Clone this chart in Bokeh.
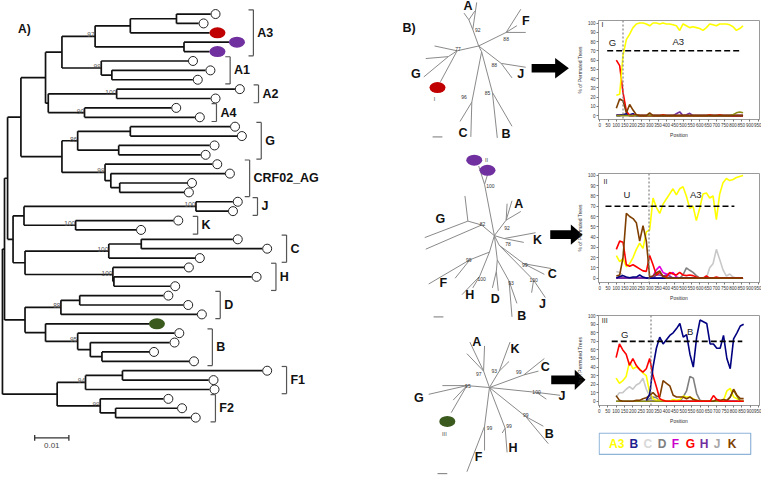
from bokeh.plotting import figure
from bokeh.layouts import row, column
from bokeh.models import Range1d, FixedTicker, Span
from bokeh.embed import file_html
from bokeh.resources import INLINE
from bokeh.core.properties import value

FONT = "Liberation Sans"
NA = float("nan")

# ===================== Panel A : rooted tree =====================
tip_depth = [0.0609, 0.0574, 0.0606, 0.0663, 0.0606, 0.0543, 0.0594, 0.0557, 0.0680, 0.0609,
             0.0494, 0.0563, 0.0666, 0.0686, 0.0606, 0.0580, 0.0614, 0.0651, 0.0540, 0.0531,
             0.0674, 0.0660, 0.0500, 0.0391, 0.0674, 0.0760, 0.0563, 0.0531, 0.0729, 0.0491,
             0.0471, 0.0529, 0.0569, 0.0429, 0.0503, 0.0489, 0.0429, 0.0546, 0.0760, 0.0603,
             0.0606, 0.0471, 0.0511, 0.0551]
colored_tip_index = [2, 3, 4, 33]
colored_tip_color = ["#c00000", "#7030a0", "#7030a0", "#3a5a1e"]

node_name = ["A3a1", "A3a", "A3b", "A3", "A1b", "A1", "A3A1", "A2", "A4", "A2A4",
             "Aall", "Ga", "Gb", "G", "CRFc", "CRFb", "CRF", "GCRF", "AG", "J",
             "K", "JK", "Ca", "C", "Hb", "H", "CH", "JKCH", "AGJKCH", "Da",
             "D", "Bc", "Bb", "B", "BB", "DB", "left", "F1a", "F1", "F2b",
             "F2", "F", "root"]
node_depth = [0.0509, 0.0374, 0.0531, 0.0271, 0.0320, 0.0289, 0.0174, 0.0334, 0.0240, 0.0134,
              0.0126, 0.0374, 0.0340, 0.0220, 0.0343, 0.0317, 0.0300, 0.0174, 0.0054, 0.0566,
              0.0214, 0.0063, 0.0406, 0.0311, 0.0326, 0.0323, 0.0066, 0.0031, 0.0015, 0.0226,
              0.0171, 0.0291, 0.0257, 0.0220, 0.0126, 0.0066, 0.0006, 0.0351, 0.0243, 0.0331,
              0.0286, 0.0160, 0.0]
node_children = [[0, 1], ["A3a1", 2], [3, 4], ["A3a", "A3b"], [6, 7], [5, "A1b"], ["A3", "A1"], [8, 9], [10, 11], ["A2", "A4"],
                 ["A3A1", "A2A4"], [12, 13], [14, 15], ["Ga", "Gb"], [18, 19], [17, "CRFc"], [16, "CRFb"], ["G", "CRF"], ["Aall", "GCRF"], [20, 21],
                 [22, 23], ["J", "K"], [24, 25], ["Ca", 26], [28, 29], [27, "Hb"], ["C", "H"], ["JK", "CH"], ["AG", "JKCH"], [30, 31],
                 ["Da", 32], [36, 37], [35, "Bc"], [34, "Bb"], [33, "B"], ["D", "BB"], ["AGJKCH", "DB"], [38, 39], ["F1a", 40], [42, 43],
                 [41, "F2b"], ["F1", "F2"], ["left", "F"]]
support_node = ["A3", "A1", "A2", "A4", "G", "CRF", "J", "K", "C", "H", "D", "B", "F1", "F2"]
support_value = [97, 99, 100, 90, 86, 99, 100, 100, 100, 100, 88, 95, 94, 99]

clade_name = ["A3", "A1", "A2", "A4", "G", "CRF02_AG", "J", "K", "C", "H", "D", "B", "F1", "F2"]
clade_first = [0, 5, 8, 10, 12, 16, 20, 22, 24, 27, 30, 34, 38, 41]
clade_last = [4, 7, 9, 11, 15, 19, 21, 23, 26, 29, 32, 37, 40, 43]
clade_bracket = [0.0734, 0.0666, 0.0749, 0.0626, 0.0757, 0.0723, 0.0746, 0.0571, 0.0831, 0.0800,
                 0.0637, 0.0614, 0.0831, 0.0623]
scale_length = 0.01
scale_label = "0.01"

PX = scale_length / 35.0      # substitutions per reference pixel
TIP0, TIPSTEP = 14.0, 9.7
A_RIGHT = 345                 # reference px where panel A ends

pA = figure(width=337, height=478, x_range=Range1d(-2 * PX, (A_RIGHT - 2) * PX),
            y_range=Range1d((494 - TIP0) / TIPSTEP, -TIP0 / TIPSTEP),
            output_backend="svg", toolbar_location=None, x_axis_type=None, y_axis_type=None,
            min_border=0, outline_line_color=None, background_fill_color="white")

xpos = {i: d for i, d in enumerate(tip_depth)}
ypos = {i: float(i) for i in range(len(tip_depth))}
sx0, sy0, sx1, sy1 = [], [], [], []
for nm, d, ch in zip(node_name, node_depth, node_children):
    cy = [ypos[c] for c in ch]
    ypos[nm] = (cy[0] + cy[-1]) / 2.0
    xpos[nm] = d
    sx0.append(d); sy0.append(cy[0]); sx1.append(d); sy1.append(cy[-1])
    for c in ch:
        sx0.append(d); sy0.append(ypos[c]); sx1.append(xpos[c]); sy1.append(ypos[c])
pA.segment(sx0, sy0, sx1, sy1, line_color="#111111", line_width=1.7)

open_idx = [i for i in range(len(tip_depth)) if i not in colored_tip_index]
pA.scatter([tip_depth[i] + 5 * PX for i in open_idx], open_idx, size=9, marker="circle",
           fill_color="white", line_color="#222222", line_width=1)
pA.ellipse([tip_depth[i] + 8 * PX for i in colored_tip_index], colored_tip_index,
           width=16, height=11, width_units="screen", height_units="screen",
           fill_color=colored_tip_color, line_color=None)

pA.text([xpos[n] for n in support_node], [ypos[n] for n in support_node],
        text=[str(v) for v in support_value], text_align="right", text_baseline="bottom",
        text_font_size="6.5px", text_color="#555555", text_font=value(FONT), x_offset=-0.5, y_offset=1)

bx0, by0, bx1, by1, lx, ly = [], [], [], [], [], []
for f, l, bx in zip(clade_first, clade_last, clade_bracket):
    y0, y1 = f - 0.45, l + 0.45
    bx0 += [bx, bx - 5 * PX, bx - 5 * PX]
    by0 += [y0, y0, y1]
    bx1 += [bx, bx, bx]
    by1 += [y1, y0, y1]
    lx.append(bx + 4 * PX); ly.append((y0 + y1) / 2.0)
pA.segment(bx0, by0, bx1, by1, line_color="#555555", line_width=1.2)
pA.text(lx, ly, text=clade_name, text_align="left", text_baseline="middle",
        text_font_size="12.5px", text_font_style="bold", text_color="#111111", text_font=value(FONT))

pA.text([16 * PX], [(29 - TIP0) / TIPSTEP], text=["A)"], text_align="left", text_baseline="middle",
        text_font_size="12px", text_font_style="bold", text_color="#111111", text_font=value(FONT))

sb_x0 = 33 * PX
sb_y = (452 - TIP0) / TIPSTEP
pA.segment([sb_x0, sb_x0, sb_x0 + scale_length], [sb_y, sb_y - 0.3, sb_y - 0.3],
           [sb_x0 + scale_length, sb_x0, sb_x0 + scale_length], [sb_y, sb_y + 0.3, sb_y + 0.3],
           line_color="#333333", line_width=1.3)
pA.text([sb_x0 + scale_length / 2], [sb_y + 0.6], text=[scale_label], text_align="center",
        text_baseline="top", text_font_size="8px", text_color="#444444", text_font=value(FONT))

# ===================== Panel B : unrooted trees =====================
ut1_x = [489, 483, 487, 479, 474, 485, 517, 532, 537, 528, 467, 444, 458, 435, 433, 450, 512, 537, 523, 492, 482, 470, 481, 503, 523, 508]
ut1_y = [47, 30, 2, 20, 13, 11, 33, 9, 33, 26, 52, 47, 58, 60, 79, 84, 65, 69, 80, 53, 105, 125, 141, 95, 130, 142]
ut1_parent = [-1, 0, 1, 1, 3, 3, 0, 6, 6, 6, 0, 10, 10, 12, 12, 10, 0, 16, 16, 0, 19, 20, 20, 19, 23, 23]
ut1_lab = ["A", "F", "G", "J", "C", "B"]
ut1_lab_x = [478, 537, 425, 532, 473, 517]
ut1_lab_y = [6, 21, 76, 76, 137, 138]
ut1_bs = ["92", "88", "77", "88", "96", "85"]
ut1_bs_x = [488, 517, 468, 505, 474, 498]
ut1_bs_y = [31, 40, 50, 67, 100, 96]

ut2_x = [505, 495, 489, 498, 492, 478, 475, 434, 435, 517, 523, 532, 518, 515, 547, 535, 510, 535, 563, 556, 545, 557, 543, 500, 480, 438, 465, 490, 472, 483, 508, 507, 503, 509, 520, 528, 523]
ut2_y = [243, 190, 171, 180, 232, 228, 202, 245, 257, 227, 207, 218, 210, 246, 240, 250, 253, 272, 277, 283, 289, 307, 302, 260, 268, 293, 287, 285, 304, 297, 268, 280, 297, 300, 290, 313, 327]
ut2_parent = [-1, 0, 1, 1, 0, 4, 5, 5, 4, 0, 9, 9, 9, 0, 13, 13, 0, 16, 17, 17, 16, 20, 20, 0, 23, 24, 24, 23, 27, 27, 0, 30, 31, 31, 30, 34, 34]
ut2_lab = ["A", "G", "K", "C", "F", "H", "D", "J", "B"]
ut2_lab_x = [530, 450, 549, 564, 453, 480, 506, 554, 533]
ut2_lab_y = [210, 226, 248, 283, 292, 304, 308, 314, 326]
ut2_bs = ["100", "82", "92", "78", "99", "99", "100", "93", "100"]
ut2_bs_x = [501, 493, 518, 519, 479, 536, 492, 522, 545]
ut2_bs_y = [192, 231, 235, 252, 268, 273, 288, 292, 289]

ut3_x = [500, 494, 480, 495, 477, 510, 521, 520, 535, 556, 550, 548, 572, 558, 537, 555, 560, 516, 518, 513, 495, 495, 477, 477, 452, 438, 463, 461]
ut3_y = [400, 383, 353, 357, 365, 383, 353, 373, 387, 370, 383, 405, 408, 412, 430, 440, 458, 442, 467, 447, 440, 465, 487, 398, 398, 407, 413, 426]
ut3_parent = [-1, 0, 1, 1, 1, 0, 5, 5, 0, 8, 8, 0, 11, 11, 0, 14, 14, 0, 17, 17, 0, 20, 20, 0, 23, 23, 23, 23]
ut3_lab = ["A", "K", "C", "J", "B", "H", "F", "G"]
ut3_lab_x = [487, 526, 557, 574, 561, 524, 489, 428]
ut3_lab_y = [353, 360, 379, 409, 448, 462, 472, 411]
ut3_bs = ["97", "93", "99", "100", "95", "99", "99", "99"]
ut3_bs_x = [489, 505, 530, 548, 478, 537, 500, 520]
ut3_bs_y = [386, 383, 384, 405, 398, 428, 442, 440]

sample_x = [447, 484.5, 498, 457]
sample_y = [90, 165, 175.5, 435]
sample_color = ["#c00000", "#7030a0", "#7030a0", "#3a5a1e"]
sample_lab = ["I", "II", "III"]
sample_lab_x = [444, 497, 454]
sample_lab_y = [102, 165, 448]
ut_scale_x0 = [442, 443, 447]
ut_scale_y = [141, 327, 489]

arrow_x0 = [543, 562, 563]
arrow_head = [567, 583, 587]
arrow_tip = [581, 595, 598]
arrow_y = [70, 242, 392]


def arrow_poly(x0, hb, tip, yc, sh=4.5, hh=10.5):
    return ([x0, hb, hb, tip, hb, hb, x0], [yc - sh, yc - sh, yc - hh, yc, yc + hh, yc + sh, yc + sh])


M_RIGHT = 600                 # middle panel reaches under the bootscan y axes
pM = figure(width=250, height=478, x_range=Range1d(A_RIGHT, M_RIGHT), y_range=Range1d(494, 0),
            output_backend="svg", toolbar_location=None, x_axis_type=None, y_axis_type=None,
            min_border=0, outline_line_color=None, background_fill_color="white")

for ux, uy, up in [(ut1_x, ut1_y, ut1_parent), (ut2_x, ut2_y, ut2_parent), (ut3_x, ut3_y, ut3_parent)]:
    e = [i for i in range(len(ux)) if up[i] >= 0]
    pM.segment([ux[up[i]] for i in e], [uy[up[i]] for i in e], [ux[i] for i in e], [uy[i] for i in e],
               line_color="#8a8a8a", line_width=1)
for lab, lx_, ly_ in [(ut1_lab, ut1_lab_x, ut1_lab_y), (ut2_lab, ut2_lab_x, ut2_lab_y), (ut3_lab, ut3_lab_x, ut3_lab_y)]:
    pM.text(lx_, ly_, text=lab, text_align="center", text_baseline="middle", text_font_size="12.5px",
            text_font_style="bold", text_color="#111111", text_font=value(FONT))
for bs, bx_, by_ in [(ut1_bs, ut1_bs_x, ut1_bs_y), (ut2_bs, ut2_bs_x, ut2_bs_y), (ut3_bs, ut3_bs_x, ut3_bs_y)]:
    pM.text(bx_, by_, text=bs, text_align="center", text_baseline="middle", text_font_size="5px",
            text_color="#333333", text_font=value(FONT))
pM.ellipse(sample_x, sample_y, width=16, height=11, width_units="screen", height_units="screen",
           fill_color=sample_color, line_color=None)
pM.text(sample_lab_x, sample_lab_y, text=sample_lab, text_align="center", text_baseline="middle",
        text_font_size="5.5px", text_color="#444444", text_font=value(FONT))
pM.segment(ut_scale_x0, ut_scale_y, [x + 10 for x in ut_scale_x0], ut_scale_y, line_color="#777777", line_width=1)
pM.text([418], [28], text=["B)"], text_align="center", text_baseline="middle", text_font_size="12.5px",
        text_font_style="bold", text_color="#111111", text_font=value(FONT))
arrows = [arrow_poly(a, b, c, d) for a, b, c, d in zip(arrow_x0, arrow_head, arrow_tip, arrow_y)]
pM.patches([a[0] for a in arrows], [a[1] for a in arrows], fill_color="black", line_color=None)

# ===================== Bootscan plots =====================
position = [100, 120, 140, 160, 180, 200, 220, 240, 260, 280, 300, 320, 340, 360, 380, 400, 420, 440, 460,
            480, 500, 520, 540, 560, 580, 600, 620, 640, 660, 680, 700, 720, 740, 760, 780, 800, 820, 840, 860]
position_ticks = [0, 50, 100, 150, 200, 250, 300, 350, 400, 450, 500, 550, 600, 650, 700, 750, 800, 850, 900, 950]
percent_ticks = [0, 10, 20, 30, 40, 50, 60, 70, 80, 90, 100]
series_color = {"A3": "#ffff00", "B": "#000080", "C": "#c8c8c8", "D": "#808080", "F": "#e000e0",
                "G": "#ff0000", "H": "#7030a0", "J": "#a6a6a6", "K": "#7f3f00", "other": "#8c8c14"}

I_A3 = [22, 23, 65, 82, 88, 95, 99, 100, 100, 99, 97, 100, 100, 99, 100, 99, 99, 98, 97, 92,
        99, 97, 95, 96, 95, 94, 92, 95, 99, 98, 97, 99, 99, 99, 98, 96, 92, 94, 97]
I_G = [60, 54, 25, 5, 0, 0, 1, 0, 0, 0, 0, 0, 0, 0, 1, 0, 0, 0, 0, 0,
       0, 0, 0, 0, 0, 0, 0, 0, 1, 0, 0, 1, 0, 0, 0, 0, 0, 0, 0]
I_K = [8, 18, 16, 3, 12, 6, 1, 0, 0, 0, 3, 0, 0, 0, 0, 0, 0, 0, 0, 0,
       0, 0, 0, 0, 0, 0, 0, 0, 0, 0, 0, 0, 0, 0, 0, 0, 0, 0, 0]
I_H = [1, 1, 1, 1, 0, 0, 0, 0, 0, 0, 0, 0, 0, 0, 0, 0, 0, 0, 2, 4,
       0, 1, 2.5, 0, 0, 0, 0, 0, 0, 0, 0, 0, 0, 0, 0, 0, 0, 0, 0]
I_B = [0, 0, 1, 2, 1, 2, 0, 0, 0, 0, 0, 0, 0, 0, 0, 0, 0, 0, 0, 0,
       0, 0, 0, 0, 0, 0, 0, 0, 0, 0, 0, 0, 0, 0, 0, 0, 0, 0, 0]
I_other = [0, 0, 0, 0, 0, 0, 0, 0, 0, 0, 0, 0, 0, 0, 0, 0, 0, 0, 0, 0,
           0, 0, 0, 0, 0, 0, 0, 0, 0, 0, 0, 0, 0, 0, 0, 1, 3, 4, 3]

II_A3 = [22, 16, 19, 11, 14, 20, 28, 34, 29, 45, 47, 78, 69, 63, 72, 77, 82, 87, 81, 87,
         89, 80, 68, 70, 56, 68, 82, 83, 78, 80, 57, 82, 93, 97, 95, 96, 98, 99, 100]
II_K = [2, 3, 20, 63, 60, 58, 54, 36, 51, 36, 1, 2, 5, 7, 1.5, 0, 0, 0, 0, 0,
        0, 0, 0, 0, 0, 0, 0, 0, 0, 0, 0, 0, 0, 0, 0, 0, 0, 0, 0]
II_G = [28, 36, 35, 13, 11.5, 13, 11, 9, 7, 6.5, 22, 13, 3, 5.5, 2, 1, 5.5, 4, 3, 5.5,
        3, 2.4, 3, 2.4, 1, 0, 0, 2, 0, 0, 1, 0, 0, 0, 0, 0, 0, 0, 0]
II_C = [6.5, 5.5, 2.4, 0, 0, 0, 0, 0, 0, 0, 0, 0, 0, 0, 0, 0, 0, 0, 0, 0,
        0, 0, 0, 0, 0, 0, 0, 0, 10, 14, 28, 18, 8, 2, 4, 1, 0, 0, 0]
II_D = [0, 0, 0, 0, 0, 0, 0, 0, 0, 0, 0, 0, 0, 0, 0, 0, 0, 0, 0, 0,
        3, 10, 7.6, 5.5, 2.4, 0, 0, 0, 0, 0, 0, 0, 0, 0, 0, 0, 0, 0, 0]
II_F = [0, 0, 0, 0, 0, 0, 0, 0, 0, 0, 0, 2, 8, 11.5, 5.5, 4, 4, 5.5, 1, 0,
        0, 0, 0, 0, 0, 0, 0, 0, 0, 0, 0, 0, 0, 0, 0, 0, 0, 0, 0]
II_B = [0, 1.5, 2.4, 1, 0.3, 1, 1, 3, 1, 0, 0, 0, 0, 0, 0, 0, 0, 0, 0, 0,
        0, 0, 0, 0, 0, 0, 0, 0, 0, 0, 0, 0, 0, 0, 0, 0, 0, 0, 0]
II_H = [0, 0, 0, 0, 0, 0, 0, 0, 0, 0, 0, 0, 3, 3, 2, 3, 2, 0, 0, 0,
        0, 0, 0, 0, 0, 0, 0, 0, 0, 0, 0, 0, 0, 0, 0, 0, 0, 0, 0]

III_B = [NA, NA, NA, NA, NA, NA, NA, NA, NA, 1, 8, 40, 62, 75, 67, 72, 77, 80, 85, 91,
         75, 78, 55, 40, 75, 95, 93, 91, 67, 67, 62, 62, 77, 50, 38, 73, 80, 88, 90]
III_G = [51, 67, 60, 55, 42, 50, 42, 37, 34, 38, 50, 30, 17, 3, 1, 0, 0, 0, 0, 0,
         0, 0, 0, 0, 0, 0, 0, 0, 0, 6.6, 2, 0, 0, 0, 0, 0, 0, 0, 0]
III_A3 = [27, 21, 24, 29, 46, 38, 40, 38, 33, 30, 10, 3, 1, 1, 1, 0, 0, 2, 1, 2,
          6, 5, 5, 3, 1, 0, 0, 0, 0, 0, 0, 0, 1, 12, 15, 5, 3, 0, 0]
III_C = [5, 10, 10, 14, 17, 14, 19, 21, 27, 14, 6, 0, 0, 0, 0, 0, 0, 0, 0, 0,
         0, 0, 0, 0, 0, 0, 0, 0, 0, 0, 0, 0, 0, 0, 0, 0, 0, 0, 0]
III_K = [6.6, 1, 0, 0, 0, 0, 1, 1, 3, 4, 7, 10, 6, 5, 24, 21, 18, 7, 5, 5,
         5, 3, 5, 2, 1, 0, 0, 0, 0, 0, 2, 1, 2, 1, 5, 14, 7, 3, 3]
III_D = [0, 0, 0, 0, 0, 0, 0, 0, 0, 0, 3, 5, 4, 0, 0, 0, 0, 0, 0, 0,
         5, 12, 29, 27, 9, 1, 0, 0, 0, 0, 0, 0, 0, 0, 0, 0, 0, 0, 0]
III_H = [NA, NA, NA, NA, NA, NA, NA, NA, NA, 0, 0, 0, 0, 0, 0, 0, 0, 0, 0, 0,
         0, 0, 0, 0, 0, 0, 0, 0, 0, 0, 0, 0, 0, 0, 0, 0, 0, 0, 0]
III_other = [0, 0, 0, 0, 0, 0, 0, 0, 0, 0, 0, 0, 0, 0, 0, 0, 0, 0, 0, 0,
             0, 0, 0, 0, 0, 0, 0, 0, 0, 0, 0, 0, 0, 0, 5, 13, 6, 0, 0]

breakpoint_pos = [140, 296, 308]
threshold = 70
threshold_start = [45, 35, 74]
threshold_end = [843, 808, 852]
region_text = [["I", "G", "A3"], ["II", "U", "A3"], ["III", "G", "B"]]
region_x = [[17, 76, 471], [35, 163, 576], [32, 152, 542]]
region_y = [[98, 79, 80], [94.5, 81, 81], [94, 77.5, 81]]

RW = 205                      # right column width (px)
BL, BR = 42, 2                # shared left / right borders of the right column plots
SXR = RW / 209.0


def make_boot(k, h, t, b, xr, yr, series):
    p = figure(width=RW, height=h, x_range=Range1d(*xr), y_range=Range1d(*yr),
               output_backend="svg", toolbar_location=None,
               min_border_left=BL, min_border_right=BR, min_border_top=t, min_border_bottom=b,
               background_fill_color="white", border_fill_color=None, border_fill_alpha=0,
               outline_line_color="#9a9a9a")
    p.grid.visible = False
    p.xaxis.ticker = FixedTicker(ticks=position_ticks)
    p.yaxis.ticker = FixedTicker(ticks=percent_ticks)
    p.xaxis.axis_label = "Position"
    p.yaxis.axis_label = "% of Permuted Trees"
    for ax in list(p.xaxis) + list(p.yaxis):
        ax.major_label_text_font_size = "4.5px"
        ax.major_label_text_font = FONT
        ax.major_label_text_color = "#333333"
        ax.axis_label_text_font_size = "5px"
        ax.axis_label_text_font = FONT
        ax.axis_label_text_font_style = "normal"
        ax.axis_label_text_color = "#333333"
        ax.major_tick_in = 0
        ax.major_tick_out = 2
        ax.minor_tick_line_color = None
        ax.major_label_standoff = 1
        ax.axis_label_standoff = 2
        ax.axis_line_color = "#9a9a9a"
        ax.major_tick_line_color = "#777777"
    for name, vals in series:
        p.line(position, vals, line_color=series_color[name], line_width=1.6)
    p.line([threshold_start[k], threshold_end[k]], [threshold, threshold], line_color="black",
           line_width=1.6, line_dash="6 3")
    p.add_layout(Span(location=breakpoint_pos[k], dimension="height", line_color="#808080",
                      line_dash="2 2", line_width=1.2))
    sizes = ["7px", "9.5px", "9.5px"]
    for txt, tx, ty, sz in zip(region_text[k], region_x[k], region_y[k], sizes):
        p.text([tx], [ty], text=[txt], text_align="center", text_baseline="middle",
               text_font_size=sz, text_color="#222222", text_font=value(FONT))
    return p


b1 = make_boot(0, 145, 20, 26, (-7, 958.7), (-4.2, 102.7),
               [("H", I_H), ("B", I_B), ("G", I_G), ("A3", I_A3), ("other", I_other), ("K", I_K)])
b2 = make_boot(1, 158, 28, 17, (-7, 958.7), (-4.3, 101.9),
               [("C", II_C), ("D", II_D), ("F", II_F), ("H", II_H), ("B", II_B), ("A3", II_A3), ("G", II_G), ("K", II_K)])
b3 = make_boot(2, 123, 12, 19, (-4.8, 954.4), (-5.0, 100.3),
               [("C", III_C), ("D", III_D), ("H", III_H), ("A3", III_A3), ("other", III_other), ("K", III_K), ("G", III_G), ("B", III_B)])

# ===================== Legend =====================
legend_label = ["A3", "B", "C", "D", "F", "G", "H", "J", "K"]
legend_color = ["#ffff00", "#1f1f8f", "#d9d9d9", "#7f7f7f", "#cc00cc", "#ff0000", "#7030a0", "#a6a6a6", "#7f3f00"]
pL = figure(width=RW, height=52, x_range=Range1d(568 + BL / SXR, 568 + (RW - BR) / SXR), y_range=Range1d(494, 440),
            output_backend="svg", toolbar_location=None, x_axis_type=None, y_axis_type=None,
            min_border_left=BL, min_border_right=BR, min_border_top=0, min_border_bottom=0,
            outline_line_color=None, background_fill_color=None, border_fill_color=None)
pL.quad(left=[611.5], right=[766], top=[447], bottom=[469], fill_color=None, line_color="#8fb4d9", line_width=1.2)
lxs, cur = [], 621.5
for lab in legend_label:
    lxs.append(cur)
    cur += 6.7 * len(lab) + 7.6
pL.text(lxs, [458] * len(lxs), text=legend_label, text_color=legend_color, text_align="left",
        text_baseline="middle", text_font_size="12px", text_font_style="bold", text_font=value(FONT))

right_col = column(b1, b2, b3, pL, margin=(0, 0, 0, -31))
layout = row(pA, pM, right_col)
open("out.html", "w").write(file_html(layout, INLINE, "bootscan"))
